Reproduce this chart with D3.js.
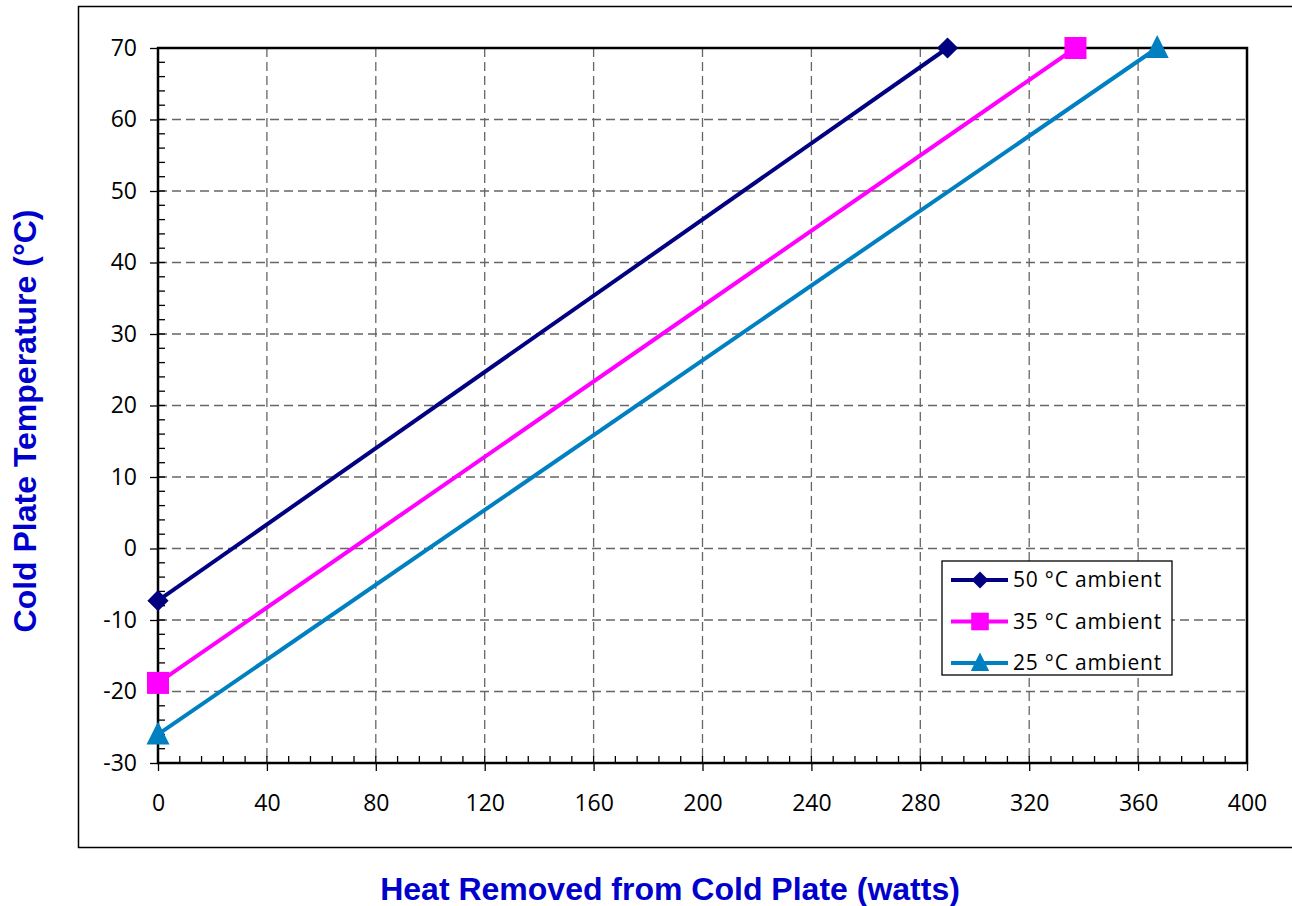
<!DOCTYPE html>
<html lang="en">
<head>
<meta charset="utf-8">
<title>Cold Plate Temperature</title>
<script src="https://d3js.org/d3.v7.min.js"></script>
<style>
  body { margin: 0; background: #fff; }
</style>
</head>
<body>
<script>
// chart data
var seriesNames = ["50 °C ambient", "35 °C ambient", "25 °C ambient"];
var heat50 = [0, 290];
var temp50 = [-7.3, 70];
var heat35 = [0, 337];
var temp35 = [-18.8, 70];
var heat25 = [0, 367];
var temp25 = [-26, 70];
var xTicks = [0, 40, 80, 120, 160, 200, 240, 280, 320, 360, 400];
var yTicks = [-30, -20, -10, 0, 10, 20, 30, 40, 50, 60, 70];

var w = 1292, h = 906;
var pLeft = 158, pTop = 48, pRight = 1247, pBottom = 763;

var svg = d3.select("body").append("svg")
    .attr("width", w)
    .attr("height", h);

// outer chart border
svg.append("rect")
    .attr("x", 78.5).attr("y", 6.5)
    .attr("width", 1220).attr("height", 841)
    .attr("fill", "none").attr("stroke", "#000").attr("stroke-width", 1.5);

var x = d3.scaleLinear().domain([0, 400]).range([pLeft, pRight]);
var y = d3.scaleLinear().domain([-30, 70]).range([pBottom, pTop]);

// gridlines
svg.append("g").selectAll("line")
    .data(xTicks.slice(1, -1))
    .enter().append("line")
    .attr("x1", d => x(d)).attr("x2", d => x(d))
    .attr("y1", pTop).attr("y2", pBottom)
    .attr("stroke", "#666").attr("stroke-width", 1.3)
    .attr("stroke-dasharray", "9,5");
svg.append("g").selectAll("line")
    .data(yTicks.slice(1, -1))
    .enter().append("line")
    .attr("x1", pLeft).attr("x2", pRight)
    .attr("y1", d => y(d)).attr("y2", d => y(d))
    .attr("stroke", "#666").attr("stroke-width", 1.3)
    .attr("stroke-dasharray", "9,5");

// plot frame
svg.append("rect")
    .attr("x", pLeft).attr("y", pTop)
    .attr("width", pRight - pLeft).attr("height", pBottom - pTop)
    .attr("fill", "none").attr("stroke", "#000").attr("stroke-width", 2.5);

// minor ticks (inside)
var xMinor = d3.range(0, 401, 8);
svg.append("g").selectAll("line")
    .data(xMinor)
    .enter().append("line")
    .attr("x1", d => x(d)).attr("x2", d => x(d))
    .attr("y1", pBottom).attr("y2", pBottom - 7)
    .attr("stroke", "#000").attr("stroke-width", 1.3);
var yMinor = d3.range(-30, 71, 2);
svg.append("g").selectAll("line")
    .data(yMinor)
    .enter().append("line")
    .attr("x1", pLeft).attr("x2", pLeft + 7)
    .attr("y1", d => y(d)).attr("y2", d => y(d))
    .attr("stroke", "#000").attr("stroke-width", 1.3);

// axes with major ticks outward
var plain = d => String(d);
var xAxis = svg.append("g")
    .attr("transform", "translate(0," + pBottom + ")")
    .call(d3.axisBottom(x).tickValues(xTicks).tickFormat(plain)
      .tickSize(8).tickPadding(24).tickSizeOuter(0));
var yAxis = svg.append("g")
    .attr("transform", "translate(" + pLeft + ",0)")
    .call(d3.axisLeft(y).tickValues(yTicks).tickFormat(plain)
      .tickSize(8).tickPadding(13).tickSizeOuter(0));
[xAxis, yAxis].forEach(function(a) {
  a.select(".domain").remove();
  a.selectAll(".tick line").attr("stroke", "#000").attr("stroke-width", 1.3);
  a.selectAll(".tick text")
    .style("font-family", "'Open Sans', sans-serif")
    .style("font-size", "23px").attr("fill", "#000");
});

// markers: rotated square for the diamond, taller triangle
var diamond = d3.symbol().type(d3.symbolSquare).size(225);
var square = d3.symbol().type(d3.symbolSquare).size(484);
var triangle = "M0,-13L11.5,10L-11.5,10Z";

var series = [
  { name: seriesNames[0], xs: heat50, ys: temp50, color: "#000080", d: diamond(), rot: 45 },
  { name: seriesNames[1], xs: heat35, ys: temp35, color: "#FF00FF", d: square(), rot: 0 },
  { name: seriesNames[2], xs: heat25, ys: temp25, color: "#0080C0", d: triangle, rot: 0 }
];

var line = d3.line().x(d => x(d[0])).y(d => y(d[1]));

series.forEach(function(s) {
  var pts = s.xs.map((v, i) => [v, s.ys[i]]);
  svg.append("path")
    .datum(pts)
    .attr("d", line)
    .attr("fill", "none")
    .attr("stroke", s.color)
    .attr("stroke-width", 4);
  svg.append("g").selectAll("path")
    .data(pts)
    .enter().append("path")
    .attr("transform", d => "translate(" + x(d[0]) + "," + y(d[1]) + ") rotate(" + s.rot + ")")
    .attr("d", s.d)
    .attr("fill", s.color);
});

// legend
var lg = svg.append("g");
lg.append("rect")
    .attr("x", 942).attr("y", 561)
    .attr("width", 230).attr("height", 114)
    .attr("fill", "#fff").attr("stroke", "#000").attr("stroke-width", 1.3);
series.forEach(function(s, i) {
  var cy = 580 + i * 41.5;
  lg.append("line")
    .attr("x1", 951).attr("x2", 1008)
    .attr("y1", cy).attr("y2", cy)
    .attr("stroke", s.color).attr("stroke-width", 4);
  lg.append("path")
    .attr("transform", "translate(980," + cy + ") rotate(" + s.rot + ") scale(0.8)")
    .attr("d", s.d)
    .attr("fill", s.color);
  lg.append("text")
    .attr("x", 1013).attr("y", cy)
    .attr("dy", "0.35em")
    .style("font-family", "'Open Sans', sans-serif")
    .style("font-size", "21px")
    .attr("letter-spacing", 0.8)
    .text(s.name);
});

// axis titles
svg.append("text")
    .attr("x", 670).attr("y", 900)
    .attr("text-anchor", "middle")
    .style("font-family", "'Liberation Sans', Arial, sans-serif")
    .style("font-weight", "bold")
    .style("font-size", "32px")
    .attr("fill", "#0000CC")
    .text("Heat Removed from Cold Plate (watts)");
svg.append("text")
    .attr("transform", "translate(36,421) rotate(-90)")
    .attr("text-anchor", "middle")
    .style("font-family", "'Liberation Sans', Arial, sans-serif")
    .style("font-weight", "bold")
    .style("font-size", "32px")
    .attr("fill", "#0000CC")
    .text("Cold Plate Temperature (°C)");
</script>
</body>
</html>
